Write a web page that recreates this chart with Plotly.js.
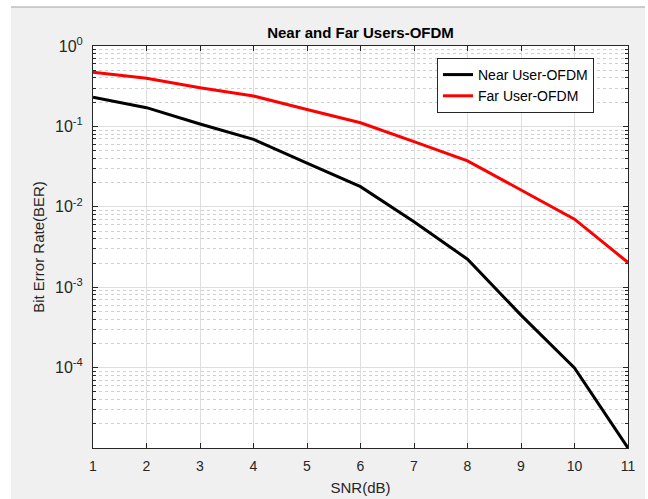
<!DOCTYPE html>
<html>
<head>
<meta charset="utf-8">
<script src="https://cdn.plot.ly/plotly-3.0.1.min.js"></script>
<style>html,body{margin:0;padding:0;background:#fff;}#chart{width:648px;height:499px;}</style>
</head>
<body>
<div id="chart"></div>
<script>
const snr = [1, 2, 3, 4, 5, 6, 7, 8, 9, 10, 11];
const nearBER = [0.23, 0.171, 0.107, 0.069, 0.035, 0.0178, 0.0065, 0.00223, 0.00045, 0.000099, 0.00001];
const farBER = [0.471, 0.396, 0.303, 0.239, 0.162, 0.111, 0.0647, 0.0372, 0.0162, 0.00702, 0.00203];
const yTickVals = [1, 0.1, 0.01, 0.001, 0.0001];
const yTickText = ['10<sup>0</sup>', '10<sup>-1</sup>', '10<sup>-2</sup>', '10<sup>-3</sup>', '10<sup>-4</sup>'];
const xTickVals = [1, 2, 3, 4, 5, 6, 7, 8, 9, 10, 11];

const FONT = 'Liberation Sans, Arial, sans-serif';
const data = [
  {x: snr, y: nearBER, type: 'scatter', mode: 'lines', name: 'Near User-OFDM',
   line: {color: '#000000', width: 3}},
  {x: snr, y: farBER, type: 'scatter', mode: 'lines', name: 'Far User-OFDM',
   line: {color: '#ff0000', width: 3}}
];

const L = 93, R = 628, T = 46, B = 448, W = 648, H = 499;
const px = v => (v - L) / (R - L);
const py = v => (B - v) / (B - T);

const layout = {
  width: W, height: H,
  margin: {l: L, r: W - R, t: T, b: H - B, pad: 0},
  paper_bgcolor: '#ffffff',
  plot_bgcolor: '#ffffff',
  font: {family: FONT, color: '#262626', size: 14},
  showlegend: true,
  title: {text: '<b>Near and Far Users-OFDM</b>', font: {family: FONT, size: 15, color: '#000000'},
          x: 0.5, xref: 'paper', xanchor: 'center', y: 1 - 33 / H, yanchor: 'middle'},
  xaxis: {
    range: [1, 11], tickvals: xTickVals, ticktext: xTickVals.map(String),
    ticks: 'inside', ticklen: 5, tickcolor: '#262626',
    showline: true, linecolor: '#262626', linewidth: 1, mirror: 'ticks',
    showgrid: true, gridcolor: '#dedede', gridwidth: 1, zeroline: false,
    tickfont: {size: 14, color: '#262626'}, ticklabelstandoff: 5,
    title: {text: 'SNR(dB)', font: {size: 15, color: '#262626'}, standoff: 9}
  },
  yaxis: {
    type: 'log', range: [-5, 0],
    tickvals: yTickVals, ticktext: yTickText,
    ticks: 'inside', ticklen: 5, tickcolor: '#262626',
    showline: true, linecolor: '#262626', linewidth: 1, mirror: 'ticks',
    showgrid: true, gridcolor: '#dedede', gridwidth: 1, zeroline: false,
    tickfont: {size: 16, color: '#262626'}, ticklabelstandoff: 6,
    minor: {dtick: 'D1', showgrid: true, griddash: 'dot', gridcolor: '#d0d0d0', gridwidth: 1,
            ticks: 'inside', ticklen: 3, tickcolor: '#262626'},
    title: {text: 'Bit Error Rate(BER)', font: {size: 15, color: '#262626'}, standoff: 6}
  },
  legend: {
    x: px(437), y: py(58), xanchor: 'left', yanchor: 'top',
    bgcolor: '#ffffff', bordercolor: '#262626', borderwidth: 1,
    font: {size: 14, color: '#000000'}, tracegroupgap: 0
  },
  shapes: [
    {type: 'rect', xref: 'paper', yref: 'paper', layer: 'below',
     x0: px(11), x1: px(645), y0: py(499), y1: py(7),
     fillcolor: '#f0f0f0', line: {width: 0}},
    {type: 'line', xref: 'paper', yref: 'paper', layer: 'below',
     x0: px(11), x1: px(645), y0: py(7), y1: py(7),
     line: {color: '#a0a0a0', width: 1}},
    {type: 'rect', xref: 'paper', yref: 'paper', layer: 'below',
     x0: 0, x1: 1, y0: 0, y1: 1, fillcolor: '#ffffff', line: {width: 0}}
  ]
};

Plotly.newPlot('chart', data, layout, {displayModeBar: false, staticPlot: true});
</script>
</body>
</html>
